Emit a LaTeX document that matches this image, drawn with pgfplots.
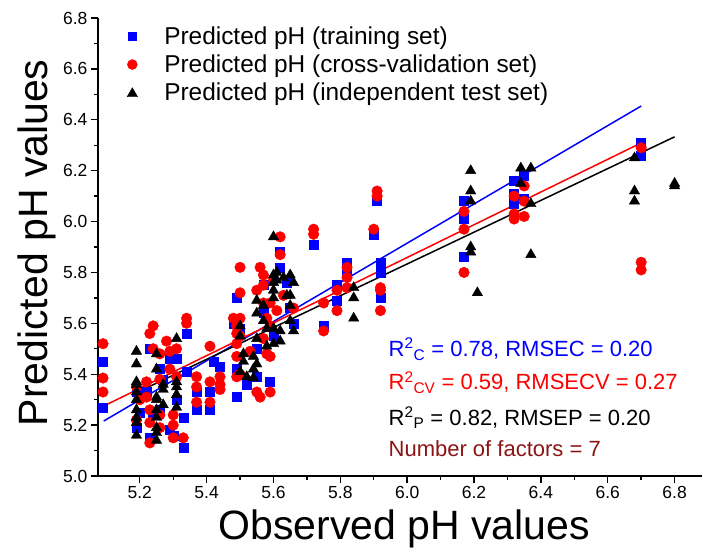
\documentclass[border=0pt]{standalone}
\usepackage{fontspec}
\setmainfont{Liberation Sans}
\usepackage{pgfplots}
\pgfplotsset{compat=1.18}
\definecolor{darkred}{RGB}{140,20,20}
\begin{document}
\begin{tikzpicture}
\path[use as bounding box] (-98pt,-78pt) rectangle (604pt,476pt);
\begin{axis}[
  width=604pt, height=458pt, scale only axis,
  xmin=5.075, xmax=6.882, ymin=5.0, ymax=6.8,
  axis lines=left, axis line style={-, line width=1.4pt},
  xtick={5.2,5.4,...,6.81}, ytick={5.0,5.2,...,6.81},
  minor tick num=1,
  tick align=outside, tick style={line width=1.4pt, black},
  major tick length=7pt, minor tick length=4pt,
  xtick pos=bottom, ytick pos=left,
  /pgf/number format/assume math mode=true,
  /pgf/number format/.cd, fixed, fixed zerofill, precision=1, /pgfplots/.cd,
  tick label style={font=\fontsize{17.5}{20}\selectfont},
  xlabel={Observed pH values}, ylabel={Predicted pH values},
  label style={font=\fontsize{41}{46}\selectfont},
  xlabel style={at={(axis description cs:0.507,0)}, anchor=center, yshift=-53pt},
  ylabel style={at={(axis description cs:0,0.509)}, anchor=center, yshift=61pt},
  legend cell align=left,
  legend style={draw=none, fill=none, font=\fontsize{24.4}{28}\selectfont,
    at={(rel axis cs:0.035,0.99)}, anchor=north west, row sep=5pt},
  clip=false,
]
\addplot[only marks, mark=square*, mark size=4.5pt, color=blue, mark options={fill=blue, draw=blue},
  legend image code/.code={\draw[draw=none] (0pt,0pt) rectangle (40pt,0.1pt); \path plot[mark=square*, mark size=4pt, mark options={fill=blue,draw=blue}] coordinates {(10pt,0pt)};}] coordinates {
(5.09,5.45) (5.09,5.27) (5.19,5.33) (5.19,5.19) (5.20,5.25) (5.22,5.33) (5.23,5.50) (5.23,5.15)
(5.24,5.25) (5.26,5.42) (5.26,5.26) (5.27,5.38) (5.29,5.46) (5.29,5.18) (5.30,5.16) (5.31,5.46)
(5.31,5.30) (5.33,5.23) (5.33,5.11) (5.34,5.56) (5.34,5.41) (5.37,5.33) (5.37,5.26) (5.41,5.33)
(5.41,5.26) (5.42,5.45) (5.44,5.43) (5.48,5.60) (5.49,5.31) (5.49,5.70) (5.49,5.42) (5.50,5.58)
(5.52,5.36) (5.55,5.39) (5.55,5.50) (5.57,5.75) (5.57,5.64) (5.59,5.37) (5.60,5.55) (5.62,5.88)
(5.62,5.82) (5.64,5.76) (5.65,5.66) (5.66,5.60) (5.72,5.91) (5.75,5.59) (5.79,5.75) (5.79,5.69)
(5.82,5.84) (5.82,5.80) (5.91,6.08) (5.90,5.95) (5.92,5.84) (5.92,5.80) (5.92,5.70) (6.17,6.08)
(6.17,6.01) (6.17,5.86) (6.32,6.16) (6.32,6.11) (6.32,6.07) (6.35,6.18) (6.35,6.09) (6.70,6.31)
(6.70,6.26)
};
\addlegendentry{Predicted pH (training set)}
\addplot[only marks, mark=*, mark size=5.3pt, color=red, mark options={fill=red, draw=red},
  legend image code/.code={\draw[draw=none] (0pt,0pt) rectangle (40pt,0.1pt); \path plot[mark=*, mark size=5pt, mark options={fill=red,draw=red}] coordinates {(10pt,0pt)};}] coordinates {
(5.09,5.52) (5.09,5.385) (5.09,5.33) (5.19,5.35) (5.19,5.22) (5.20,5.30) (5.22,5.31) (5.22,5.37)
(5.23,5.56) (5.23,5.26) (5.23,5.21) (5.23,5.13) (5.24,5.59) (5.24,5.50) (5.26,5.48) (5.26,5.38)
(5.26,5.24) (5.26,5.19) (5.28,5.53) (5.29,5.49) (5.29,5.42) (5.30,5.24) (5.30,5.20) (5.30,5.15)
(5.31,5.50) (5.31,5.39) (5.33,5.15) (5.34,5.62) (5.34,5.60) (5.37,5.39) (5.37,5.35) (5.37,5.29)
(5.41,5.51) (5.41,5.37) (5.41,5.29) (5.44,5.39) (5.44,5.36) (5.44,5.34) (5.48,5.62) (5.49,5.59)
(5.49,5.56) (5.49,5.52) (5.49,5.47) (5.49,5.39) (5.50,5.82) (5.50,5.72) (5.50,5.62) (5.50,5.55)
(5.50,5.40) (5.53,5.49) (5.55,5.73) (5.55,5.33) (5.56,5.82) (5.56,5.31) (5.57,5.79) (5.57,5.75)
(5.57,5.68) (5.57,5.54) (5.58,5.48) (5.58,5.62) (5.59,5.68) (5.59,5.59) (5.59,5.47) (5.59,5.33)
(5.60,5.77) (5.61,5.65) (5.62,5.94) (5.62,5.87) (5.63,5.71) (5.66,5.66) (5.72,5.97) (5.72,5.95)
(5.75,5.68) (5.75,5.57) (5.79,5.73) (5.79,5.65) (5.82,5.82) (5.82,5.78) (5.82,5.74) (5.90,5.97)
(5.91,6.12) (5.91,6.10) (5.92,5.74) (5.92,5.73) (5.92,5.65) (6.17,6.04) (6.17,5.97) (6.17,5.80)
(6.32,6.10) (6.32,6.03) (6.32,6.01) (6.35,6.14) (6.35,6.08) (6.35,6.02) (6.70,6.29) (6.70,5.84)
(6.70,5.81)
};
\addlegendentry{Predicted pH (cross-validation set)}
\addplot[only marks, mark=triangle*, mark size=6pt, color=black, mark options={fill=black, draw=black},
  legend image code/.code={\draw[draw=none] (0pt,0pt) rectangle (40pt,0.1pt); \path plot[mark=triangle*, mark size=6pt, mark options={fill=black,draw=black}] coordinates {(10pt,-1pt)};}] coordinates {
(5.19,5.49) (5.19,5.44) (5.19,5.37) (5.19,5.36) (5.19,5.33) (5.19,5.30) (5.19,5.26) (5.19,5.23)
(5.19,5.21) (5.19,5.16) (5.25,5.48) (5.25,5.42) (5.25,5.31) (5.25,5.30) (5.25,5.26) (5.25,5.23)
(5.25,5.19) (5.25,5.17) (5.25,5.14) (5.27,5.36) (5.27,5.34) (5.27,5.28) (5.31,5.54) (5.31,5.37)
(5.31,5.35) (5.31,5.32) (5.31,5.27) (5.50,5.59) (5.50,5.55) (5.51,5.48) (5.51,5.45) (5.50,5.41)
(5.52,5.39) (5.55,5.69) (5.55,5.64) (5.55,5.54) (5.55,5.44) (5.54,5.47) (5.54,5.42) (5.54,5.385)
(5.57,5.67) (5.57,5.61) (5.58,5.51) (5.58,5.58) (5.60,5.94) (5.60,5.79) (5.60,5.76) (5.60,5.73)
(5.60,5.70) (5.60,5.58) (5.60,5.52) (5.61,5.80) (5.61,5.77) (5.62,5.57) (5.62,5.53) (5.63,5.78)
(5.64,5.71) (5.65,5.79) (5.65,5.71) (5.65,5.67) (5.65,5.61) (5.66,5.57) (5.66,5.76) (5.84,5.74)
(5.84,5.70) (5.84,5.62) (6.19,6.20) (6.19,6.12) (6.19,6.08) (6.19,5.90) (6.19,5.88) (6.21,5.72)
(6.34,6.21) (6.34,6.15) (6.37,6.21) (6.37,6.07) (6.37,5.87) (6.68,6.25) (6.68,6.12) (6.68,6.08)
(6.80,6.15) (6.80,6.14)
};
\addlegendentry{Predicted pH (independent test set)}
\addplot[blue, line width=1.5pt, forget plot] coordinates {(5.092,5.216) (6.70,6.454)};
\addplot[red, line width=1.5pt, forget plot] coordinates {(5.092,5.275) (6.70,6.309)};
\addplot[black, line width=1.5pt, forget plot] coordinates {(5.194,5.33) (6.80,6.333)};
\node[anchor=base west, blue, font=\fontsize{22}{26}\selectfont] at (axis cs:5.934,5.470) {R\textsuperscript{2}\textsubscript{C} = 0.78, RMSEC = 0.20};
\node[anchor=base west, red, font=\fontsize{22}{26}\selectfont] at (axis cs:5.934,5.338) {R\textsuperscript{2}\textsubscript{CV} = 0.59, RMSECV = 0.27};
\node[anchor=base west, black, font=\fontsize{22}{26}\selectfont] at (axis cs:5.934,5.200) {R\textsuperscript{2}\textsubscript{P} = 0.82, RMSEP = 0.20};
\node[anchor=base west, darkred, font=\fontsize{22}{26}\selectfont] at (axis cs:5.934,5.075) {Number of factors = 7};
\end{axis}
\end{tikzpicture}
\end{document}
